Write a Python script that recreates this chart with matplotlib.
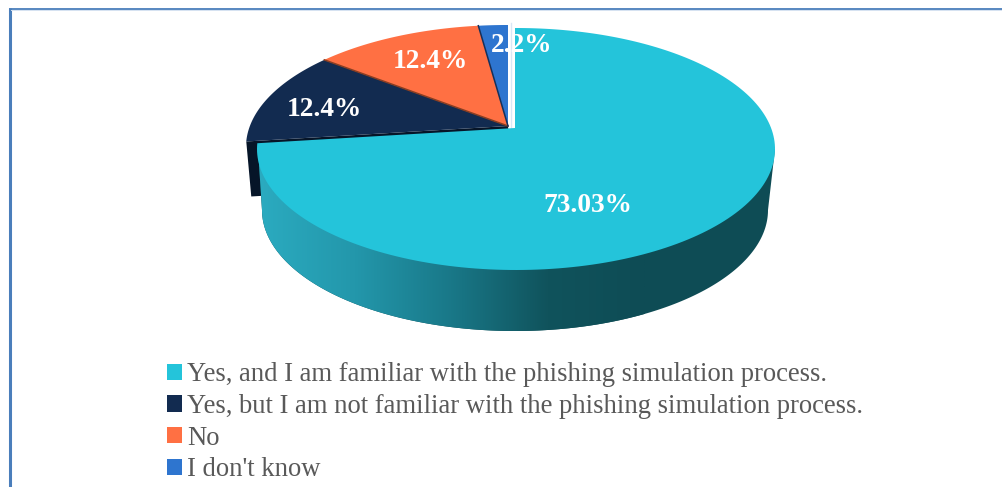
import numpy as np
import matplotlib
matplotlib.use("Agg")
import matplotlib.pyplot as plt
from matplotlib.colors import LinearSegmentedColormap
from matplotlib.patches import Polygon, Patch

categories = ["Yes, and I am familiar with the phishing simulation process.",
              "Yes, but I am not familiar with the phishing simulation process.",
              "No",
              "I don't know"]
values = [73.03, 12.4, 12.4, 2.2]

colors = ["#24C4DA", "#122B50", "#FF7043", "#2E75CF"]
label_pos = [(588, 205), (324, 109), (430, 62), (522, 45)]

plt.rcParams["font.family"] = ["Liberation Serif", "DejaVu Serif"]
fig = plt.figure(figsize=(10.02, 4.87), dpi=100)
ax = fig.add_axes([0, 0, 1, 1])
ax.set_xlim(0, 1002)
ax.set_ylim(487, 0)
ax.axis("off")

# Pie projection (pixels)
K = 0.47
A_C, C_C, R_C = (515.0, 128.0), (516.0, 149.0), (259.0, 121.0)   # first slice
A_O, C_O, R_O = (508.0, 126.0), (507.0, 147.0), (261.0, 122.0)   # other slices
BOT_C, BOT_R = (515.0, 210.0), (253.0, 121.0)
DEPTH = (5.0, 55.0)


def rim(theta, apex, centre, radii):
    """Point on an ellipse hit by the ray from apex at clockwise angle theta (rad)."""
    dx, dy = np.sin(theta), -K * np.cos(theta)
    ox, oy = (apex[0] - centre[0]) / radii[0], (apex[1] - centre[1]) / radii[1]
    ux, uy = dx / radii[0], dy / radii[1]
    a, b, c = ux**2 + uy**2, 2 * (ox * ux + oy * uy), ox**2 + oy**2 - 1
    t = (-b + np.sqrt(b**2 - 4 * a * c)) / (2 * a)
    return apex[0] + t * dx, apex[1] + t * dy


def wedge(t0, t1, apex, centre, radii):
    th = np.linspace(t0, t1, 200)
    pts = [rim(t, apex, centre, radii) for t in th]
    return np.array([apex] + pts)


total = sum(values)
edges = np.radians(np.cumsum([0] + values) / total * 360)

# Frame
ax.plot([10, 10], [487, 8], color="#4A7EBB", lw=2.2, solid_capstyle="butt")
ax.plot([9, 1002], [8.8, 8.8], color="#4A7EBB", lw=1.3, solid_capstyle="butt")
ax.plot([11, 1002], [10.3, 10.3], color="#D5E2F1", lw=0.7)

# Navy cut face, seen past the exploded first slice
p = np.array(rim(edges[1], A_O, C_O, R_O))
ax.add_patch(Polygon([A_O, p, p + DEPTH, np.array(A_O) + DEPTH],
                     closed=True, fc="#061528", ec="none", zorder=2))

# Other slices
for i in (1, 2, 3):
    ax.add_patch(Polygon(wedge(edges[i], edges[i + 1], A_O, C_O, R_O), closed=True,
                         fc=colors[i], ec="none", zorder=3))
# Thin shaded radial faces
q = np.array(rim(edges[2], A_O, C_O, R_O))
ax.plot([A_O[0], q[0]], [A_O[1], q[1]], color="#8A3E22", lw=1.1, zorder=4)
q = np.array(rim(edges[3], A_O, C_O, R_O))
ax.plot([A_O[0], q[0]], [A_O[1], q[1]], color="#16305A", lw=1.1, zorder=4)
ax.plot([A_C[0] - 3.5] * 2, [23, A_C[1]], color="#D9E6F5", lw=1.0, zorder=2)

# First slice wall with gradient
s = np.linspace(0, np.pi, 300)
wall = np.column_stack([BOT_C[0] + BOT_R[0] * np.cos(s), BOT_C[1] + BOT_R[1] * np.sin(s)])
wall = np.vstack([[C_C[0] + R_C[0], C_C[1]], wall, [C_C[0] - R_C[0] + 1, C_C[1]]])
clip2 = Polygon(wall, closed=True, transform=ax.transData, fc="#0E4C55", ec="none", zorder=4.5)
ax.add_patch(clip2)
cmap = LinearSegmentedColormap.from_list(
    "wall", [(0, "#2BABC0"), (0.25, "#2397AB"), (0.5, "#197888"),
             (0.75, "#10535C"), (1, "#0E4C55")])
grad = np.linspace(0, 1, 512).reshape(1, -1)
im = ax.imshow(grad, cmap=cmap, extent=(258, 645, 335, 140), aspect="auto", zorder=5)
im.set_clip_path(clip2)
ax.set_xlim(0, 1002)
ax.set_ylim(487, 0)

# First slice top
ax.add_patch(Polygon(wedge(edges[0], edges[1], A_C, C_C, R_C), closed=True,
                     fc=colors[0], ec="none", zorder=6))

# Data labels
for v, (x, y) in zip(values, label_pos):
    ax.text(x, y, f"{v}%", color="white", fontsize=19.7, fontweight="bold",
            ha="center", va="center", zorder=8)

# Legend
handles = [Patch(fc=c, ec="none", label=l) for c, l in zip(colors, categories)]
ax.legend(handles=handles, loc="upper left", bbox_to_anchor=(162 / 1002, 1 - 357 / 487),
          frameon=False, fontsize=19.2, labelcolor="#595959", handlelength=0.56,
          handleheight=0.56, handletextpad=0.17, labelspacing=0.25, borderpad=0.2,
          borderaxespad=0)

fig.savefig("out.png", dpi=100)
